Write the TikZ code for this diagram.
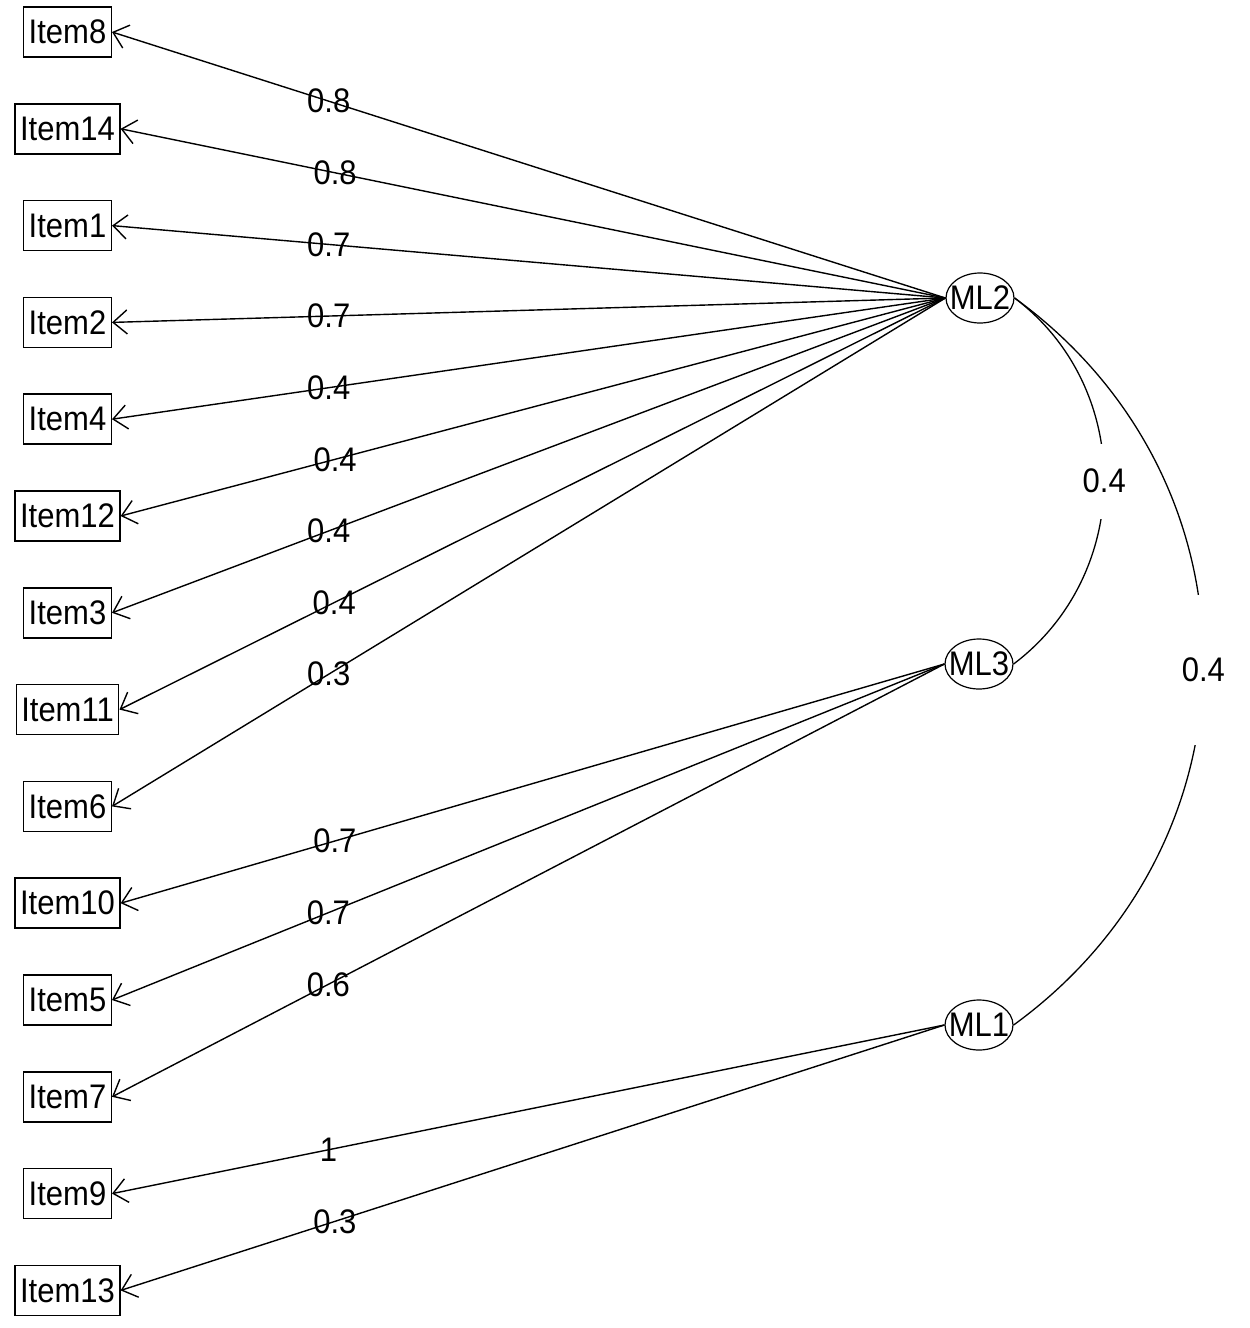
\documentclass[tikz,border=0pt]{standalone}
\usepackage{fontspec}
\setmainfont{Liberation Sans}
\usepackage{graphicx}
\usetikzlibrary{arrows.meta,shapes.geometric}
\newcommand{\tx}[1]{\scalebox{1}[1.1]{#1}}
\begin{document}
\begin{tikzpicture}[x=1pt,y=-1pt,
  font=\fontsize{31}{34}\selectfont,
  item/.style={draw, line width=1.5pt, rectangle, inner xsep=5pt, inner ysep=0pt, minimum height=50pt},
  fac/.style={draw, line width=1.2pt, ellipse, minimum width=68pt, minimum height=50pt, inner sep=0pt},
  load/.style={line width=1.4pt, -{Straight Barb[length=14pt,width=24pt,line width=1.4pt]}},
  lab/.style={pos=0.74, inner sep=0pt},
  corr/.style={line width=1.3pt},
  gaplab/.style={midway, fill=white, inner xsep=2pt, inner ysep=0pt}]
\useasboundingbox[fill=white] (0,0) rectangle (1250,1328);

% items
\node[item] (I8)  at (67.5,32)     {\tx{Item8}};
\node[item] (I14) at (67.5,128.8)  {\tx{Item14}};
\node[item] (I1)  at (67.5,225.6)  {\tx{Item1}};
\node[item] (I2)  at (67.5,322.4)  {\tx{Item2}};
\node[item] (I4)  at (67.5,419.2)  {\tx{Item4}};
\node[item] (I12) at (67.5,516)    {\tx{Item12}};
\node[item] (I3)  at (67.5,612.8)  {\tx{Item3}};
\node[item] (I11) at (67.5,709.6)  {\tx{Item11}};
\node[item] (I6)  at (67.5,806.4)  {\tx{Item6}};
\node[item] (I10) at (67.5,903.2)  {\tx{Item10}};
\node[item] (I5)  at (67.5,1000)   {\tx{Item5}};
\node[item] (I7)  at (67.5,1096.8) {\tx{Item7}};
\node[item] (I9)  at (67.5,1193.6) {\tx{Item9}};
\node[item] (I13) at (67.5,1290.4) {\tx{Item13}};

% factors
\node[fac] (ML2) at (980,298)  {\makebox[0pt]{\tx{ML2}}};
\node[fac] (ML3) at (979,664)  {\makebox[0pt]{\tx{ML3}}};
\node[fac] (ML1) at (979,1025) {\makebox[0pt]{\tx{ML1}}};

% loadings
\draw[load] (ML2.west) -- (I8.east)  node[lab] {\tx{0.8}};
\draw[load] (ML2.west) -- (I14.east) node[lab] {\tx{0.8}};
\draw[load] (ML2.west) -- (I1.east)  node[lab] {\tx{0.7}};
\draw[load] (ML2.west) -- (I2.east)  node[lab] {\tx{0.7}};
\draw[load] (ML2.west) -- (I4.east)  node[lab] {\tx{0.4}};
\draw[load] (ML2.west) -- (I12.east) node[lab] {\tx{0.4}};
\draw[load] (ML2.west) -- (I3.east)  node[lab] {\tx{0.4}};
\draw[load] (ML2.west) -- (I11.east) node[lab] {\tx{0.4}};
\draw[load] (ML2.west) -- (I6.east)  node[lab] {\tx{0.3}};
\draw[load] (ML3.west) -- (I10.east) node[lab] {\tx{0.7}};
\draw[load] (ML3.west) -- (I5.east)  node[lab] {\tx{0.7}};
\draw[load] (ML3.west) -- (I7.east)  node[lab] {\tx{0.6}};
\draw[load] (ML1.west) -- (I9.east)  node[lab] {\tx{1}};
\draw[load] (ML1.west) -- (I13.east) node[lab] {\tx{0.3}};

% factor correlations
\draw[corr] (ML2.east) to[out=-37,in=37,looseness=1.05]
  node[gaplab, minimum height=75pt] {\tx{0.4}} (ML3.east);
\draw[corr] (ML2.east) to[out=-36,in=36,looseness=1.1]
  node[gaplab, minimum height=150pt, yshift=-8pt] {\tx{0.4}} (ML1.east);
\end{tikzpicture}
\end{document}
